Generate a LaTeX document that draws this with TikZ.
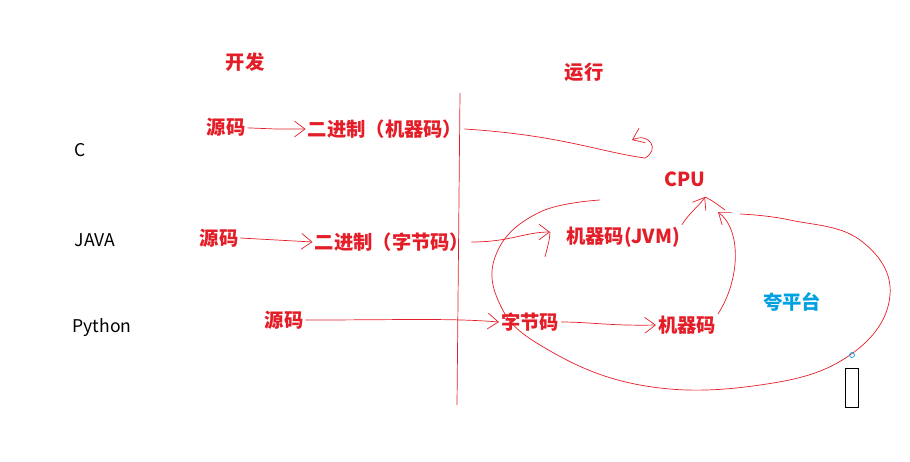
\documentclass[tikz,border=0pt]{standalone}
\usepackage{fontspec}
\setmainfont{Noto Sans CJK SC}
\usetikzlibrary{arrows.meta}
\definecolor{pen}{RGB}{228,30,40}
\definecolor{sky}{RGB}{0,160,225}
\tikzset{
  lab/.style={text=pen, font=\fontsize{11}{13}\selectfont\bfseries, inner sep=1pt},
  lang/.style={font=\fontsize{10}{12}\selectfont, inner sep=1pt},
  line/.style={draw=pen, thin, -{Straight Barb[length=6pt,width=9pt]}}
}
\begin{document}
\begin{tikzpicture}[x=0.02cm, y=-0.02cm]
        \useasboundingbox (0,0) rectangle (910,461);
        %% Headers
        \node [lab] at (245,62) (dev) {开发};
        \node [lab] at (584,72) (run) {运行};
        %% Languages
        \node [lang] at (80,150) (c) {C};
        \node [lang] at (95,240) (java) {JAVA};
        \node [lang] at (102,328) (py) {Python};
        %% Vertices
        \node [lab] at (226,127) (srcC) {源码};
        \node [lab] at (385,129) (binC) {二进制（机器码）};
        \node [lab] at (219,238) (srcJ) {源码};
        \node [lab] at (392,242) (binJ) {二进制（字节码）};
        \node [lab] at (284,320) (srcP) {源码};
        \node [lab] at (530,322) (bytP) {字节码};
        \node [lab] at (687,325) (macP) {机器码};
        \node [lab] at (623,237) (jvm) {机器码(JVM)};
        \node [lab] at (685,179) (cpu) {CPU};
        \node [text=sky, font=\fontsize{11}{13}\selectfont\bfseries] at (792,302) (cross) {夸平台};
        %% Divider
        \draw [pen] (460,93) -- (457,405);
        %% Arcs
        \path [line] (srcC) -- ++(50,2) coordinate (a1) -- (a1 -| binC.west);
        \path [line] (binC.east) .. controls (560,135) and (600,152) .. (645,158)
              .. controls (660,150) and (650,132) .. (632,140);
        \path [line] (srcJ.east) -- (binJ.west);
        \path [line] (binJ.east) .. controls (510,242) and (525,232) .. (550,232);
        \path [draw=pen, thin] (545,257) .. controls (548,245) and (550,238) .. (550,232);
        \path [line] (jvm.north east) .. controls (690,212) and (700,205) .. (705,197);
        \path [draw=pen, thin] (705,197) .. controls (712,200) and (718,205) .. (725,210);
        \path [line] (macP.north east) .. controls (740,280) and (742,230) .. (718,212);
        \path [line] (srcP.east) .. controls (400,320) and (450,318) .. (bytP.west);
        \path [line] (bytP.east) .. controls (590,322) and (610,326) .. (macP.west);
        %% Loop
        \draw [pen, thin] plot [smooth, tension=0.7] coordinates {(600,200) (540,212) (498,250) (498,300) (540,345) (640,385) (760,385) (850,355) (890,295) (860,240) (790,220) (740,214)};
        %% Marks
        \draw [sky] (852,355) circle (2.5);
        \draw (845,368) rectangle (858,407);
\end{tikzpicture}
\end{document}
